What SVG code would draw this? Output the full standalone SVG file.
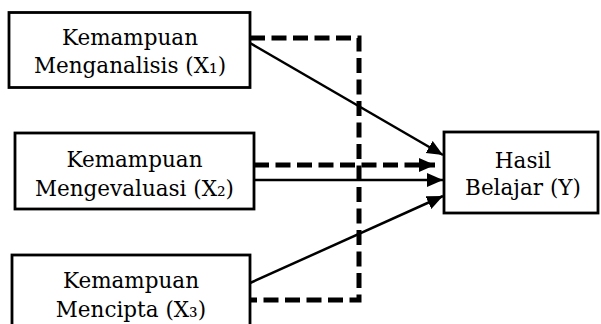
<svg xmlns="http://www.w3.org/2000/svg" width="601" height="324" viewBox="0 0 601 324">
<style>
.box{fill:#fff;stroke:#000;stroke-width:2.8}
.lbl{font-family:"DejaVu Serif","Liberation Serif",serif;font-size:21.5px;fill:#000;text-anchor:middle}
.solid{fill:none;stroke:#000;stroke-width:2.5}
.dash{fill:none;stroke:#000;stroke-width:5;stroke-dasharray:15 6.5}
</style>
<defs>
<marker id="arr" markerUnits="userSpaceOnUse" markerWidth="17" markerHeight="15" refX="16" refY="7" orient="auto">
<path d="M0,0 L16,7 L0,14 z" fill="#000"/>
</marker>
</defs>
<rect width="601" height="324" fill="#fff"/>
<g id="connectors">
<path class="dash" d="M250,38 H359 V300 H250"/>
<path class="dash" d="M254,165 H435" marker-end="url(#arr)"/>
<line class="solid" x1="250" y1="43" x2="443" y2="155" marker-end="url(#arr)"/>
<line class="solid" x1="254" y1="180" x2="443" y2="180" marker-end="url(#arr)"/>
<line class="solid" x1="250" y1="283" x2="443" y2="196" marker-end="url(#arr)"/>
</g>
<g id="x1">
<rect class="box" x="9" y="12.5" width="241" height="75"/>
<text class="lbl" x="130" y="45">Kemampuan</text>
<text class="lbl" x="130" y="73">Menganalisis (X₁)</text>
</g>
<g id="x2">
<rect class="box" x="15" y="133" width="239" height="76"/>
<text class="lbl" x="134.5" y="167">Kemampuan</text>
<text class="lbl" x="134.5" y="196">Mengevaluasi (X₂)</text>
</g>
<g id="x3">
<rect class="box" x="12" y="255" width="238" height="80"/>
<text class="lbl" x="131" y="288">Kemampuan</text>
<text class="lbl" x="131" y="317">Mencipta (X₃)</text>
</g>
<g id="y">
<rect class="box" x="444" y="132" width="154" height="81"/>
<text class="lbl" x="523" y="168">Hasil</text>
<text class="lbl" x="523" y="195">Belajar (Y)</text>
</g>
</svg>
